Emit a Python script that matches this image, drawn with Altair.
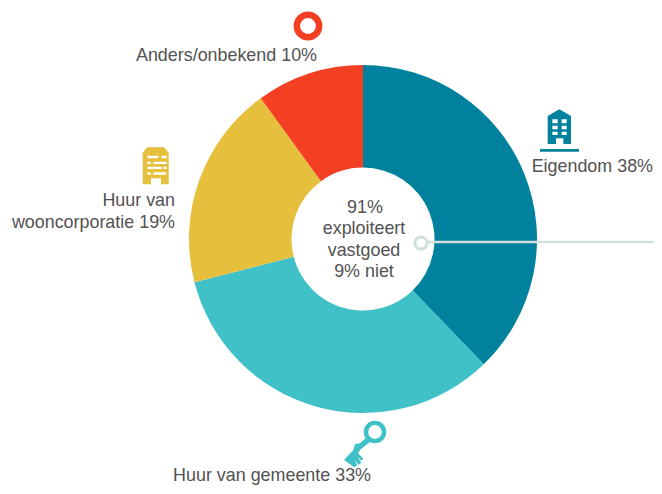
import altair as alt
import pandas as pd

categories = ["Eigendom", "Huur van gemeente", "Huur van wooncorporatie", "Anders/onbekend"]
shares = [37.8, 33.2, 19, 10]
colors = ["#00819E", "#40C1C7", "#E6BF3C", "#F33F22"]
TEXT = "#525252"
FONT = "Liberation Sans"
FS = 17.9

OX, OY = 8, 8  # page margin
one = alt.Data(values=[{"a": 1}])
df = pd.DataFrame({"c": categories, "v": shares, "o": range(4)})


def X(v):
    return alt.value(v - OX)


def Y(v):
    return alt.value(v - OY)


arcs = alt.Chart(df).mark_arc(radius=174, radius2=71.5).encode(
    theta=alt.Theta("v:Q", stack=True, scale=alt.Scale(domain=[0, 100], range=[0, 6.283185307])),
    order=alt.Order("o:Q"),
    color=alt.Color("c:N", scale=alt.Scale(domain=categories, range=colors), legend=None),
    x=X(363), y=Y(239),
)

labels = [
    ("91%", 365, 213, "center"),
    ("exploiteert", 364, 234, "center"),
    ("vastgoed", 364, 256, "center"),
    ("9% niet", 364, 277, "center"),
    ("Eigendom 38%", 653, 172, "right"),
    ("Anders/onbekend 10%", 317, 61, "right"),
    ("Huur van", 175, 206, "right"),
    ("wooncorporatie 19%", 175, 228, "right"),
    ("Huur van gemeente 33%", 371, 481, "right"),
]
layers = [arcs]
for t, x, y, al in labels:
    layers.append(alt.Chart(one).mark_text(align=al, baseline="alphabetic", font=FONT, fontSize=FS, color=TEXT).encode(
        x=X(x), y=Y(y), text=alt.value(t)))

# connector
layers.append(alt.Chart(one).mark_rule(color="#D2E0DB", strokeWidth=2.5).encode(
    x=X(428), x2=X(662), y=Y(242)))
layers.append(alt.Chart(one).mark_point(shape="circle", filled=True, fill="white", stroke="#D2E0DB", strokeWidth=3, opacity=1, size=150).encode(
    x=X(421), y=Y(243)))


def poly(*groups, cx, cy, half):
    out = []
    for g in groups:
        pts = [((x - cx) / half, (y - cy) / half) for x, y in g]
        out.append("M" + "L".join(f"{x:.4f},{y:.4f}" for x, y in pts) + "Z")
    return " ".join(out)


def hole(x0, x1, y0, y1):  # counter-clockwise rectangle (opposite winding to body)
    return [(x0, y0), (x0, y1), (x1, y1), (x1, y0)]


def icon(path, cx, cy, half, color):
    return alt.Chart(one).mark_point(shape=path, filled=True, fill=color, opacity=1, size=(2 * half) ** 2).encode(
        x=X(cx), y=Y(cy))


# teal building
tz = lambda x, y: (530 + x / 3, 100 + y / 3)
body = [tz(88, 28), tz(123, 48), tz(123, 132), tz(100, 132), tz(100, 115), tz(78, 115), tz(78, 132), tz(53, 132), tz(53, 48)]
wins = []
for y0, y1 in [(58, 70), (77, 88), (95, 105)]:
    for x0, x1 in [(67, 83), (95, 110)]:
        a = tz(x0, y0); b = tz(x1, y1)
        wins.append(hole(a[0], b[0], a[1], b[1]))
base = [tz(30, 147), tz(147, 147), tz(147, 155), tz(30, 155)]
layers.append(icon(poly(body, base, *wins, cx=560, cy=130, half=25), 560, 130, 25, colors[0]))

# yellow building
yz = lambda x, y: (120 + x / 3, 140 + y / 3)
body = [yz(82, 22), yz(132, 22), yz(146, 38), yz(146, 133), yz(123, 133), yz(123, 115), yz(93, 115), yz(93, 133), yz(68, 133), yz(68, 38)]
st = []
for y0, y1, spans in [(47, 55, [(82, 115), (125, 140)]), (65, 72, [(82, 92), (100, 140)]),
                      (80, 87, [(82, 125), (130, 140)]), (97, 104, [(82, 92), (100, 138)])]:
    for x0, x1 in spans:
        a = yz(x0, y0); b = yz(x1, y1)
        st.append(hole(a[0], b[0], a[1], b[1]))
layers.append(icon(poly(body, *st, cx=156, cy=166, half=25), 156, 166, 25, colors[2]))

# key
kz = lambda x, y: (320 + x / 3, 410 + y / 3)
key = [kz(138, 83), kz(150, 96), kz(122, 118), kz(114, 130), kz(130, 146), kz(124, 152), kz(112, 140), kz(124, 158), kz(116, 164),
       kz(104, 150), kz(112, 166), kz(103, 172), kz(72, 150), kz(100, 120), kz(105, 103), kz(120, 100)]
layers.append(icon(poly(key, cx=360, cy=445, half=25), 360, 445, 25, colors[1]))
layers.append(alt.Chart(one).mark_point(shape="circle", filled=False, stroke=colors[1], strokeWidth=4.4, opacity=1, size=330).encode(
    x=X(375), y=Y(432)))

# red ring
layers.append(alt.Chart(one).mark_point(shape="circle", filled=False, stroke=colors[3], strokeWidth=6.5, opacity=1, size=500).encode(
    x=X(308), y=Y(26)))

chart = alt.layer(*layers).properties(
    width=646, height=478, padding=0, autosize=alt.AutoSizeParams(type="none")
).configure_view(stroke=None)
chart.save("out.html", embed_options={"renderer": "svg", "actions": False})
